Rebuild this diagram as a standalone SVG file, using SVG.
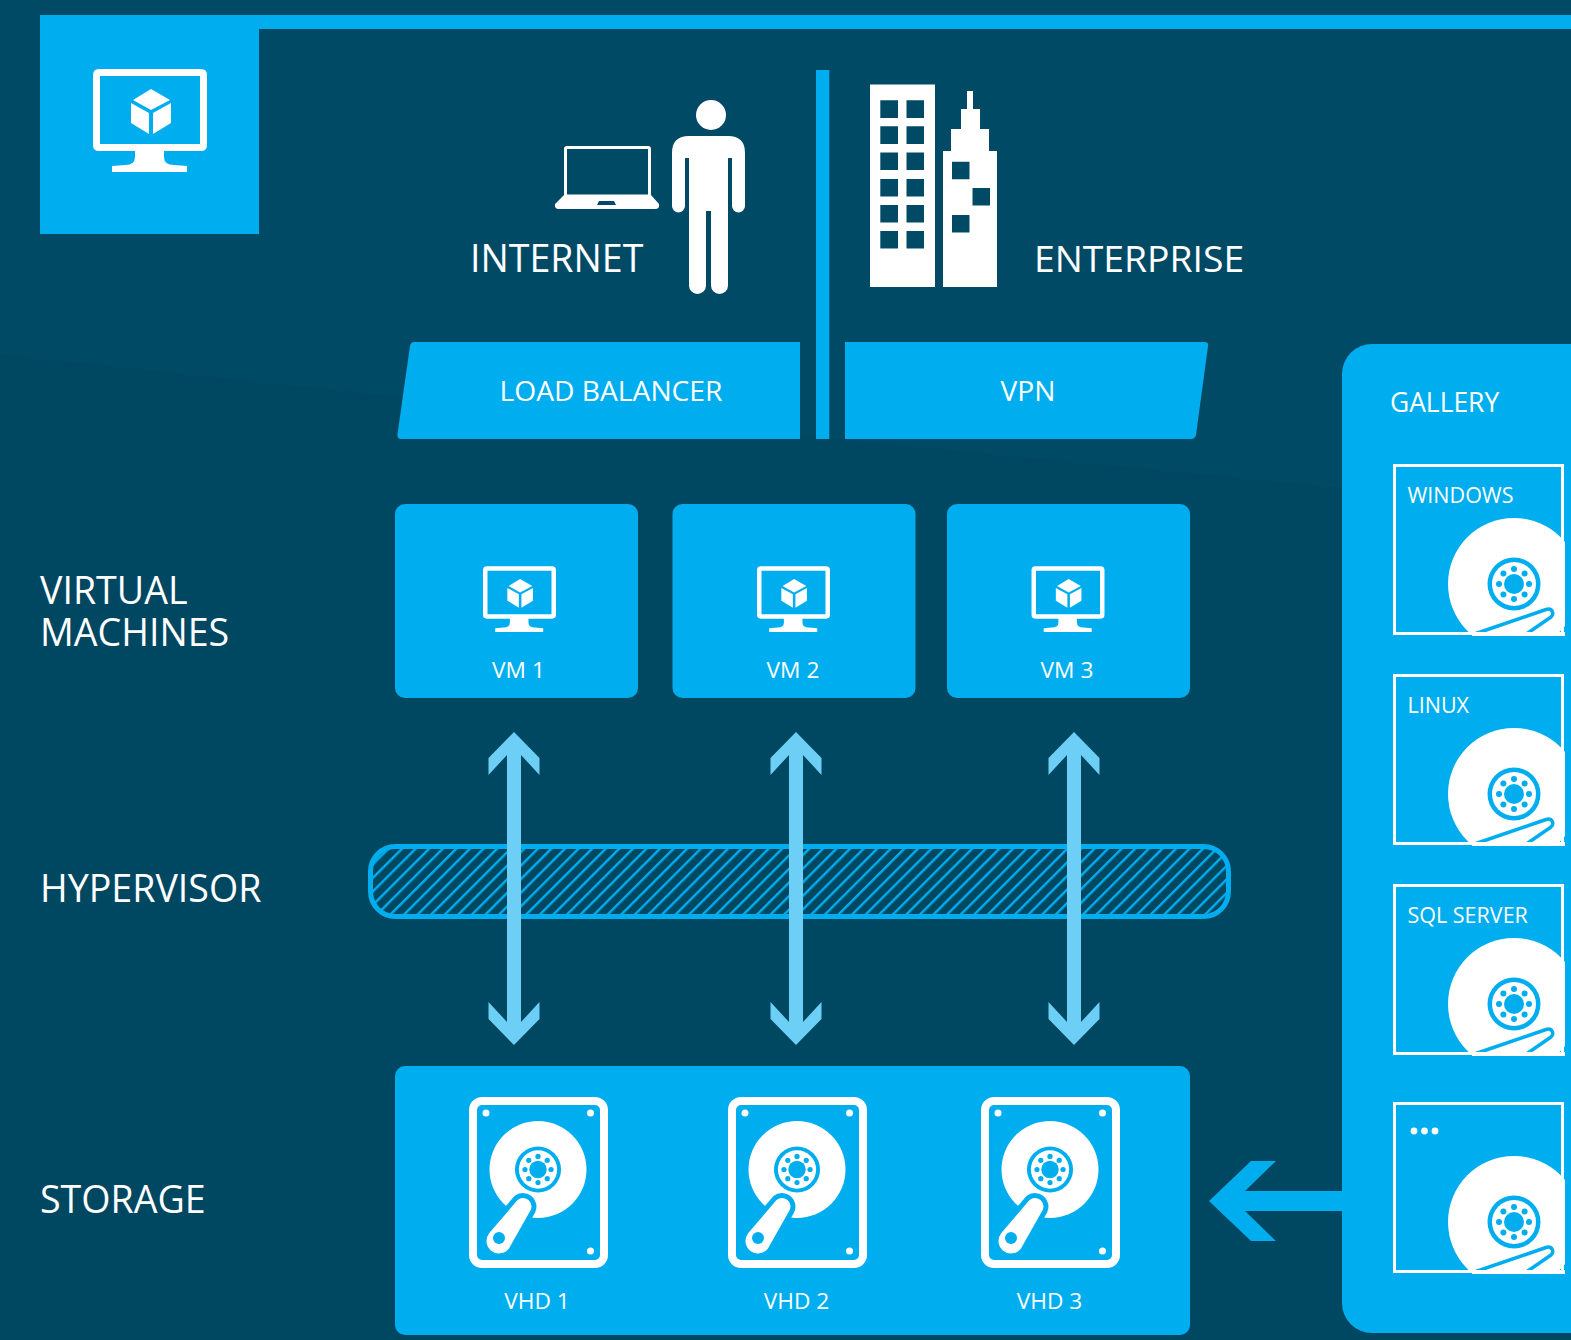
<svg xmlns="http://www.w3.org/2000/svg" xmlns:xlink="http://www.w3.org/1999/xlink" width="1571" height="1340" viewBox="0 0 1571 1340">
<style>
text{font-family:"Open Sans","Noto Sans","Liberation Sans",sans-serif;fill:#fff}
.w{fill:#fff}
.d{fill:#004a66}
.b{fill:#00aeef}
.h1{font-size:37.6px}
.t{font-size:22.7px;text-anchor:middle}
.bar{font-size:28.2px;text-anchor:middle}
.c{font-size:21.5px}
.arr{fill:#6dcff6}
</style>
<defs>
<pattern id="hatch" width="9.6" height="9.6" patternUnits="userSpaceOnUse" patternTransform="rotate(45)">
<rect width="9.6" height="9.6" fill="#004862"/><rect width="2.4" height="9.6" fill="#00aeef"/>
</pattern>
<g id="mon">
<path class="w" fill-rule="evenodd" d="M99 69H201Q207 69 207 75V145Q207 151 201 151H164V157Q164 165 174 165L187 166V172H112V166L125 165Q135 165 135 157V151H99Q93 151 93 145V75Q93 69 99 69ZM100 76V144H200V76Z"/>
<path class="w" d="M151 89L170 100L151 110L133 100ZM131 103L149 113V134L131 123ZM153 134V113L171 103V123Z"/>
</g>
<g id="hub">
<circle r="26.500" class="b"/><circle r="22" class="w"/><circle r="10" class="b"/>
<g class="b"><circle cy="-15" r="3"/><circle cy="15" r="3"/><circle cx="-15" r="3"/><circle cx="15" r="3"/><circle cx="-10.600" cy="-10.600" r="3"/><circle cx="10.600" cy="-10.600" r="3"/><circle cx="-10.600" cy="10.600" r="3"/><circle cx="10.600" cy="10.600" r="3"/></g>
</g>
<clipPath id="cc"><rect x="-130" y="-130" width="181" height="182"/></clipPath>
<g id="card">
<rect x="-119.500" y="-118.500" width="168" height="168" fill="none" stroke="#fff" stroke-width="3"/>
<g clip-path="url(#cc)">
<circle r="66" class="w"/>
<use xlink:href="#hub" href="#hub"/>
<path fill="none" stroke="#00aeef" stroke-width="3.500" stroke-linejoin="round" d="M-38 49.500L32 25.500Q37 24 38.500 28Q39.500 31 37 33L11 51"/>
<rect x="-42" y="48" width="93" height="4" class="w"/>
</g>
</g>
<g id="hdd">
<rect x="473" y="1101" width="131" height="163" rx="9" fill="none" stroke="#fff" stroke-width="8"/>
<circle cx="486" cy="1113" r="3.500" class="w"/><circle cx="590.500" cy="1113" r="3.500" class="w"/><circle cx="590.500" cy="1251" r="3.500" class="w"/>
<circle cx="538" cy="1169.500" r="48.500" class="w"/>
<g transform="translate(538 1169.500) scale(.87)"><use xlink:href="#hub" href="#hub"/></g>
<path class="w" stroke="#00aeef" stroke-width="5" d="M516 1198A11 11 0 0 1 533 1211L511 1250A15 15 0 0 1 487 1232Z"/>
<circle cx="499" cy="1238" r="6" class="b"/>
</g>
<path id="ua" class="arr" d="M514 732L539.500 758V775L521 755V888H507V755L488.500 775V758Z"/>
<path id="da" class="arr" d="M514 1045L539.500 1019V1002L521 1022V888H507V1022L488.500 1002V1019Z"/>
</defs>
<rect width="1571" height="1340" class="d"/>
<path id="backdrop" fill="#004762" d="M0 354L400 397L1190 473L1571 510V1340H0Z"/>
<g id="title-tile">
<path class="b" d="M40 15H1571V29H259V234H40Z"/>
<use xlink:href="#mon" href="#mon"/>
</g>
<g id="internet">
<g id="laptop">
<path class="w" fill-rule="evenodd" d="M567 146H648Q651 146 651 149V195L659 204Q660 209 655 209H559Q554 209 555 204L564 195V149Q564 146 567 146ZM567 149V194.500H648V149Z"/>
<path class="d" d="M599 201H614L616 205H597Z"/>
</g>
<g id="person">
<circle cx="711" cy="115" r="15" class="w"/>
<path class="w" d="M689 136H728Q745 136 745 153V206A6.500 6.500 0 0 1 732 206V158H728V285.500A8.500 8.500 0 0 1 711 285.500V211H706V285.500A8.500 8.500 0 0 1 689 285.500V158H685V206A6.500 6.500 0 0 1 672 206V153Q672 136 689 136Z"/>
</g>
<text class="h1" x="470" y="271.500">INTERNET</text>
</g>
<g id="enterprise">
<path class="w" fill-rule="evenodd" d="M870 84.500H935V287H870ZM880.300 100.300V118H898V100.300ZM906.500 100.300V118H924V100.300ZM880.300 126.300V144H898V126.300ZM906.500 126.300V144H924V126.300ZM880.300 152.500V170H898V152.500ZM906.500 152.500V170H924V152.500ZM880.300 179V196.500H898V179ZM906.500 179V196.500H924V179ZM880.300 205V222.500H898V205ZM906.500 205V222.500H924V205ZM880.300 231V248.500H898V231ZM906.500 231V248.500H924V231Z"/>
<path class="w" fill-rule="evenodd" d="M943 287V151H951V129H961V109H967V91H973V109H980V129H989V151H997V287ZM952 161.700V179.200H969.500V161.700ZM972.500 188V205.500H990V188ZM952 215V232.500H969.500V215Z"/>
<text class="h1" x="1034" y="271.500" style="font-size:37.3px">ENTERPRISE</text>
</g>
<rect id="divider" class="b" x="816" y="70" width="13.300" height="369"/>
<g id="load-balancer">
<path class="b" d="M414 342H800V439H401Q397 439 397.500 434L410 346Q411 342 414 342Z"/>
<text class="bar" x="611" y="401">LOAD BALANCER</text>
</g>
<g id="vpn">
<path class="b" d="M845 342H1204Q1209 342 1208 346L1196 435Q1195 439 1191 439H845Z"/>
<text class="bar" x="1028" y="401">VPN</text>
</g>
<g id="labels">
<text class="h1" x="40" y="604">VIRTUAL<tspan x="40" dy="41.500">MACHINES</tspan></text>
<text class="h1" x="40" y="902">HYPERVISOR</text>
<text class="h1" x="40" y="1213">STORAGE</text>
</g>
<g id="vm1"><rect class="b" x="395" y="504" width="243" height="194" rx="10"/><use xlink:href="#mon" href="#mon" transform="translate(423.500 522) scale(.64)"/><text class="t" x="518.500" y="678">VM 1</text></g>
<g id="vm2"><rect class="b" x="672.500" y="504" width="243" height="194" rx="10"/><use xlink:href="#mon" href="#mon" transform="translate(697.500 522) scale(.64)"/><text class="t" x="793" y="678">VM 2</text></g>
<g id="vm3"><rect class="b" x="947" y="504" width="243" height="194" rx="10"/><use xlink:href="#mon" href="#mon" transform="translate(972 522) scale(.64)"/><text class="t" x="1067" y="678">VM 3</text></g>
<g id="hypervisor"><rect x="370.500" y="846.500" width="858" height="70" rx="25" fill="url(#hatch)" stroke="#00aeef" stroke-width="5"/></g>
<g id="storage">
<rect class="b" x="395" y="1066" width="795" height="269" rx="10"/>
<g id="vhd1"><use xlink:href="#hdd" href="#hdd"/><text class="t" x="537" y="1309">VHD 1</text></g>
<g id="vhd2"><use xlink:href="#hdd" href="#hdd" x="259"/><text class="t" x="796.500" y="1309">VHD 2</text></g>
<g id="vhd3"><use xlink:href="#hdd" href="#hdd" x="512"/><text class="t" x="1049.500" y="1309">VHD 3</text></g>
</g>
<g id="gallery">
<path class="b" d="M1571 344H1372A30 30 0 0 0 1342 374V1303A30 30 0 0 0 1372 1333H1571Z"/>
<text style="font-size:26.4px" x="1390" y="412">GALLERY</text>
<g id="windows"><use xlink:href="#card" href="#card" transform="translate(1514 584)"/><text class="c" x="1407.500" y="503">WINDOWS</text></g>
<g id="linux"><use xlink:href="#card" href="#card" transform="translate(1514 794)"/><text class="c" x="1407.500" y="713">LINUX</text></g>
<g id="sql"><use xlink:href="#card" href="#card" transform="translate(1514 1004)"/><text class="c" x="1407.500" y="923">SQL SERVER</text></g>
<g id="more"><use xlink:href="#card" href="#card" transform="translate(1514 1222)"/><g class="w"><circle cx="1414" cy="1131" r="3.400"/><circle cx="1424.500" cy="1131" r="3.400"/><circle cx="1435" cy="1131" r="3.400"/></g></g>
</g>
<g id="connectors">
<use xlink:href="#ua" href="#ua"/><use xlink:href="#da" href="#da"/>
<use xlink:href="#ua" href="#ua" x="282"/><use xlink:href="#da" href="#da" x="282"/>
<use xlink:href="#ua" href="#ua" x="560"/><use xlink:href="#da" href="#da" x="560"/>
<path class="b" d="M1342 1191H1245L1276 1161H1251L1209 1201L1251 1241H1276L1245 1211H1342Z"/>
</g>
</svg>
